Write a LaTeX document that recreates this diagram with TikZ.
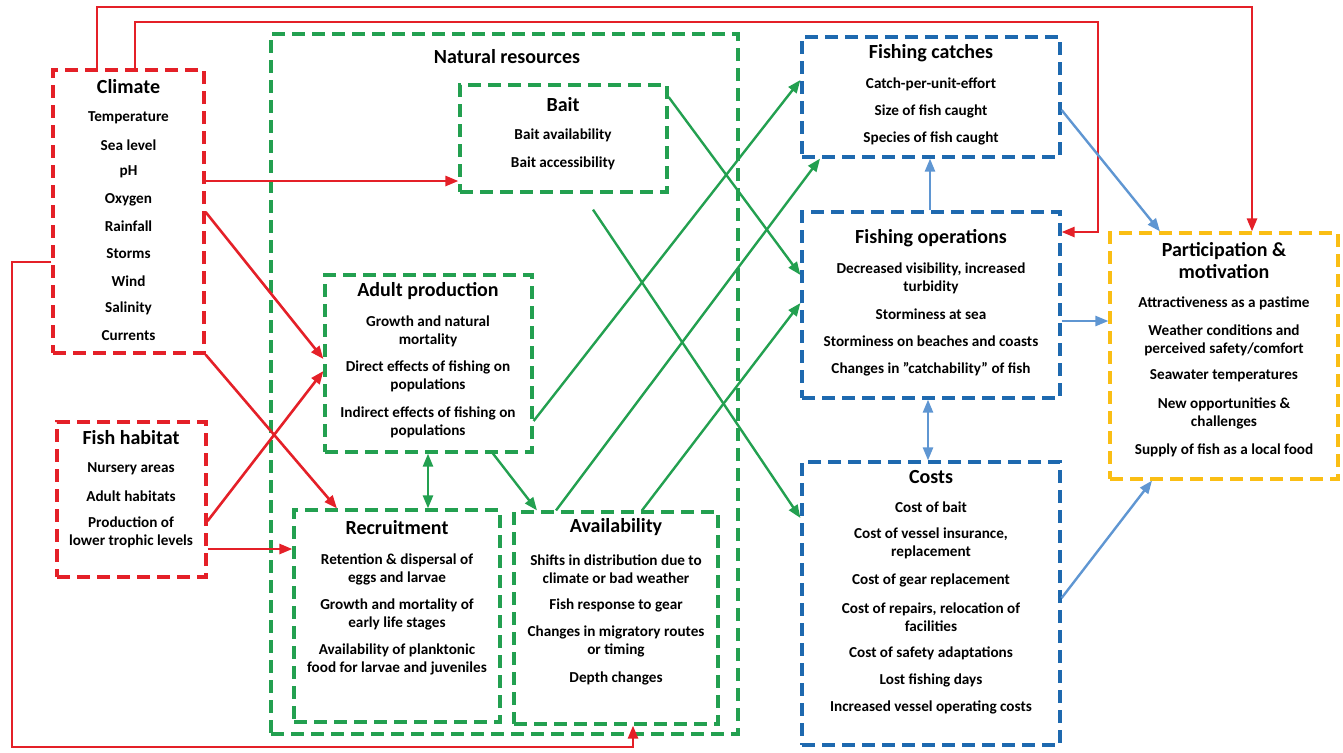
\documentclass[tikz,border=0pt]{standalone}
\usepackage{fontspec}
\setmainfont{Carlito}
\usetikzlibrary{arrows.meta,fit}
\definecolor{climred}{RGB}{228,32,40}
\definecolor{resgreen}{RGB}{35,160,80}
\definecolor{fishblue}{RGB}{30,105,175}
\definecolor{linkblue}{RGB}{95,150,210}
\definecolor{partyellow}{RGB}{250,190,20}
\begin{document}
\begin{tikzpicture}[x=0.5pt,y=-0.5pt,
    box/.style={line width=1.6pt, dash pattern=on 6.5pt off 3.5pt, inner sep=0pt},
    redbox/.style={box, draw=climred},
    greenbox/.style={box, draw=resgreen},
    bluebox/.style={box, draw=fishblue},
    yellowbox/.style={box, draw=partyellow},
    head/.style={font=\fontsize{10}{11}\selectfont\bfseries, align=center, inner sep=0pt},
    item/.style={font=\fontsize{7.6}{9}\selectfont\bfseries, align=center, inner sep=0pt},
    >={Triangle[length=6.5pt,width=5pt]},
    redlink/.style={->, draw=climred, line width=1.3pt},
    greenlink/.style={->, draw=resgreen, line width=1.2pt},
    bluelink/.style={->, draw=linkblue, line width=1.2pt}]
      \useasboundingbox (0,0) rectangle (1343,752);
      \node[greenbox, fit={(271,34) (738,734)}] (natres) {};
      \node[redbox, fit={(53,70) (204,353)}] (climate) {};
      \node[redbox, fit={(57,422) (206,577)}] (habitat) {};
      \node[greenbox, fit={(460,85) (667,192)}] (bait) {};
      \node[greenbox, fit={(325,275) (532,452)}] (adult) {};
      \node[greenbox, fit={(294,510) (500,722)}] (recruit) {};
      \node[greenbox, fit={(514,512) (718,724)}] (avail) {};
      \node[bluebox, fit={(802,37) (1060,157)}] (catches) {};
      \node[bluebox, fit={(802,212) (1060,398)}] (operations) {};
      \node[bluebox, fit={(802,462) (1060,745)}] (costs) {};
      \node[yellowbox, fit={(1110,233) (1338,479)}] (particip) {};

      \node[head] (climate-h) at (128.5,87) {Climate};
      \foreach \t [count=\i] in {Temperature,Sea level,pH,Oxygen,Rainfall,Storms,Wind,Salinity,Currents}
        \node[item] (climate-\i) at (128.5,{90.5+27.2*\i}) {\t};

      \node[head] (habitat-h) at (131,438) {Fish habitat};
      \node[item] (habitat-1) at (131,469) {Nursery areas};
      \node[item] (habitat-2) at (131,496) {Adult habitats};
      \node[item] (habitat-3) at (131,532) {Production of\\lower trophic levels};

      \node[head] (natres-h) at (507,57) {Natural resources};

      \node[head] (bait-h) at (563,105) {Bait};
      \node[item] (bait-1) at (563,135) {Bait availability};
      \node[item] (bait-2) at (563,163) {Bait accessibility};

      \node[head] (adult-h) at (428,291) {Adult production};
      \node[item] (adult-1) at (428,331) {Growth and natural\\mortality};
      \node[item] (adult-2) at (428,376) {Direct effects of fishing on\\populations};
      \node[item] (adult-3) at (428,422) {Indirect effects of fishing on\\populations};

      \node[head] (recruit-h) at (397,528) {Recruitment};
      \node[item] (recruit-1) at (397,569) {Retention \& dispersal of\\eggs and larvae};
      \node[item] (recruit-2) at (397,614) {Growth and mortality of\\early life stages};
      \node[item] (recruit-3) at (397,659) {Availability of planktonic\\food for larvae and juveniles};

      \node[head] (avail-h) at (616,527) {Availability};
      \node[item] (avail-1) at (616,569) {Shifts in distribution due to\\climate or bad weather};
      \node[item] (avail-2) at (616,605) {Fish response to gear};
      \node[item] (avail-3) at (616,641) {Changes in migratory routes\\or timing};
      \node[item] (avail-4) at (616,678) {Depth changes};

      \node[head] (catches-h) at (931,53) {Fishing catches};
      \node[item] (catches-1) at (931,84) {Catch-per-unit-effort};
      \node[item] (catches-2) at (931,111) {Size of fish caught};
      \node[item] (catches-3) at (931,138) {Species of fish caught};

      \node[head] (operations-h) at (931,238) {Fishing operations};
      \node[item] (operations-1) at (931,278) {Decreased visibility, increased\\turbidity};
      \node[item] (operations-2) at (931,314) {Storminess at sea};
      \node[item] (operations-3) at (931,341) {Storminess on beaches and coasts};
      \node[item] (operations-4) at (931,369) {Changes in ''catchability'' of fish};

      \node[head] (costs-h) at (931,477) {Costs};
      \node[item] (costs-1) at (931,507) {Cost of bait};
      \node[item] (costs-2) at (931,543.5) {Cost of vessel insurance,\\replacement};
      \node[item] (costs-3) at (931,580) {Cost of gear replacement};
      \node[item] (costs-4) at (931,617) {Cost of repairs, relocation of\\facilities};
      \node[item] (costs-5) at (931,653) {Cost of safety adaptations};
      \node[item] (costs-6) at (931,680) {Lost fishing days};
      \node[item] (costs-7) at (931,707) {Increased vessel operating costs};

      \node[head] (particip-h) at (1224,261) {Participation \&\\motivation};
      \node[item] (particip-1) at (1224,303) {Attractiveness as a pastime};
      \node[item] (particip-2) at (1224,340) {Weather conditions and\\perceived safety/comfort};
      \node[item] (particip-3) at (1224,376) {Seawater temperatures};
      \node[item] (particip-4) at (1224,413.5) {New opportunities \&\\challenges};
      \node[item] (particip-5) at (1224,450) {Supply of fish as a local food};

      \begin{scope}[redlink]
        \draw (climate.north -| 97,0) |- (1252,7) -- (particip.north -| 1252,0);
        \draw (climate.north -| 135,0) |- (1098,22) |- (operations.east |- 0,232);
        \draw (climate.east |- 0,181) -- (bait.west |- 0,181);
        \draw (climate.east |- 0,212) -- (adult.west |- 0,359);
        \draw (climate.south east) -- (recruit.north -| 337,0);
        \draw (habitat.east |- 0,521) -- (adult.west |- 0,371);
        \draw (habitat.east |- 0,549) -- (recruit.west |- 0,549);
        \draw (climate.west |- 0,262) -| (12,747) -| (avail.south -| 633,0);
      \end{scope}

      \begin{scope}[greenlink]
        \draw[<->] (adult.south -| 428,0) -- (recruit.north -| 428,0);
        \draw (adult.south -| 493,0) -- (avail.north -| 537,0);
        \draw (adult.east |- 0,421) -- (catches.west |- 0,80);
        \draw (avail.north -| 556,0) -- (catches.south -| 820,0);
        \draw (avail.north -| 642,0) -- (operations.west |- 0,303);
        \draw (bait.east |- 0,97) -- (operations.west |- 0,275);
        \draw ([yshift=-8pt]bait.south -| 593,0) -- (costs.west |- 0,518);
      \end{scope}

      \begin{scope}[bluelink]
        \draw (operations.north -| 930,0) -- (catches.south -| 930,0);
        \draw[<->] (operations.south -| 928,0) -- (costs.north -| 928,0);
        \draw (catches.east |- 0,110) -- (particip.north -| 1160,0);
        \draw (operations.east |- 0,321) -- (particip.west |- 0,321);
        \draw (costs.east |- 0,598) -- (particip.south -| 1152,0);
      \end{scope}
    \end{tikzpicture}
\end{document}
